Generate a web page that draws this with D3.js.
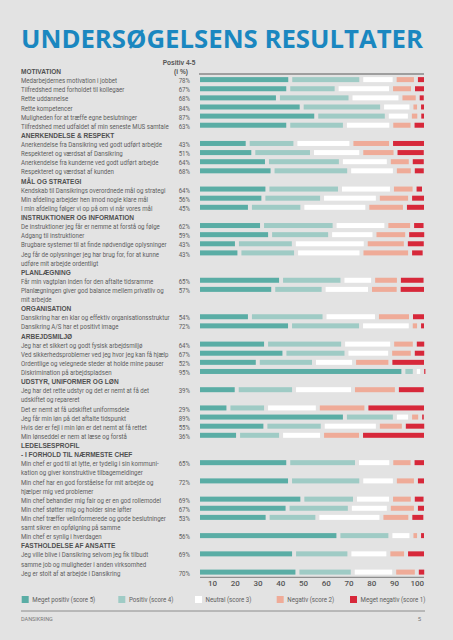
<!DOCTYPE html>
<html><head><meta charset="utf-8">
<script src="https://cdn.jsdelivr.net/npm/d3@7"></script>
<style>html,body{margin:0;padding:0;background:#e3e3e3;}svg{display:block}</style>
</head><body><svg id="c" width="453" height="640"></svg>
<script>
const title = "UNDERSØGELSENS RESULTATER";
const groups = ["MOTIVATION","ANERKENDELSE & RESPEKT","MÅL OG STRATEGI","INSTRUKTIONER OG INFORMATION","PLANLÆGNING","ORGANISATION","ARBEJDSMILJØ","UDSTYR, UNIFORMER OG LØN","LEDELSESPROFIL\n- I FORHOLD TIL NÆRMESTE CHEF","FASTHOLDELSE AF ANSATTE"];
const groupSizes = [6,4,3,4,2,2,4,5,6,2];
const categories = [
"Medarbejdernes motivation i jobbet",
"Tilfredshed med forholdet til kollegaer",
"Rette uddannelse",
"Rette kompetencer",
"Muligheden for at træffe egne beslutninger",
"Tilfredshed med udfaldet af min seneste MUS samtale",
"Anerkendelse fra Dansikring ved godt udført arbejde",
"Respekteret og værdsat af Dansikring",
"Anerkendelse fra kunderne ved godt udført arbejde",
"Respekteret og værdsat af kunden",
"Kendskab til Dansikrings overordnede mål og strategi",
"Min afdeling arbejder hen imod nogle klare mål",
"I min afdeling følger vi op på om vi når vores mål",
"De instruktioner jeg får er nemme at forstå og følge",
"Adgang til instruktioner",
"Brugbare systemer til at finde nødvendige oplysninger",
"Jeg får de oplysninger jeg har brug for, for at kunne\nudføre mit arbejde ordentligt",
"Får min vagtplan inden for den aftalte tidsramme",
"Planlægningen giver god balance mellem privatliv og\nmit arbejde",
"Dansikring har en klar og effektiv organisationsstruktur",
"Dansikring A/S har et positivt image",
"Jeg har et sikkert og godt fysisk arbejdsmiljø",
"Ved sikkerhedsproblemer ved jeg hvor jeg kan få hjælp",
"Ordentlige og velegnede steder at holde mine pauser",
"Diskrimination på arbejdspladsen",
"Jeg har det rette udstyr og det er nemt at få det\nudskiftet og repareret",
"Det er nemt at få udskiftet uniformsdele",
"Jeg får min løn på det aftalte tidspunkt",
"Hvis der er fejl i min løn er det nemt at få rettet",
"Min lønseddel er nem at læse og forstå",
"Min chef er god til at lytte, er tydelig i sin kommuni-\nkation og giver konstruktive tilbagemeldinger",
"Min chef har en god forståelse for mit arbejde og\nhjælper mig ved problemer",
"Min chef behandler mig fair og er en god rollemodel",
"Min chef støtter mig og holder sine løfter",
"Min chef træffer velinformerede og gode beslutninger\nsamt sikrer en opfølgning på samme",
"Min chef er synlig i hverdagen",
"Jeg ville blive i Dansikring selvom jeg fik tilbudt\nsamme job og muligheder i anden virksomhed",
"Jeg er stolt af at arbejde i Dansikring"];
const positiveShare = [78,67,68,84,87,63,43,51,64,68,64,56,45,62,59,43,43,65,57,54,72,64,67,52,95,39,29,89,55,36,65,72,69,67,53,56,69,70];
const veryPositive = [39.4,38.5,33.9,44.5,51.0,38.5,20.4,22.9,29.0,31.5,29.2,27.4,21.4,26.8,30.4,15.6,16.7,35.3,31.8,21.4,39.3,28.6,36.8,24.9,89.9,15.5,11.8,63.8,28.3,16.1,38.5,39.3,44.8,38.2,29.3,60.9,41.1,42.6];
const positive = [31.7,21.6,32.4,35.9,31.5,25.3,21.3,26.2,33.0,34.2,32.4,26.2,23.4,32.4,26.8,25.4,25.3,27.4,22.5,33.3,31.7,34.4,27.7,25.1,5.1,25.6,16.8,22.3,25.6,19.2,30.7,31.8,23.5,27.8,22.2,23.2,24.7,24.7];
const neutral = [14.9,24.3,22.3,13.1,10.3,20.7,25.0,22.0,21.4,20.4,23.2,24.9,29.0,23.1,19.8,32.1,29.2,13.7,20.7,23.4,22.2,21.9,19.5,17.9,3.3,26.3,23.1,6.8,24.6,18.3,15.3,15.0,16.1,17.4,28.6,9.4,17.4,18.5];
const negative = [9.5,9.8,7.7,3.4,4.2,9.5,17.7,15.3,9.8,8.0,10.1,14.4,16.8,11.5,14.6,17.9,21.7,11.5,12.8,15.2,3.7,10.1,10.1,16.2,0,19.6,21.7,4.5,11.6,17.4,9.5,9.4,9.7,12.1,12.9,3.4,7.9,10.1];
const veryNegative = [4.5,5.8,3.6,3.1,3.0,6.0,15.6,13.5,6.7,5.8,4.2,7.1,9.4,6.0,8.5,8.9,6.5,11.9,12.2,6.7,3.1,5.1,6.0,15.9,1.8,12.9,26.6,2.5,10.0,29.0,6.0,4.5,5.7,4.5,6.7,3.1,8.9,4.2];
const tickValues = [10,20,30,40,50,60,70,80,90,100];
const legendLabels = ["Meget positiv (score 5)","Positiv (score 4)","Neutral (score 3)","Negativ (score 2)","Meget negativ (score 1)"];
const colors = ["#5aada5","#9fcbc5","#ffffff","#efab98","#d7283a"];

const svg = d3.select("#c");
svg.append("rect").attr("width",453).attr("height",640).attr("fill","#e3e3e3");

const labelFont = "Roboto,'Liberation Sans',sans-serif";
const boldFont = "'Liberation Sans',Arial,sans-serif";

// horizontal fit factor so a sample string gets the width seen in the reference
function fit(sample, target, family, size, weight){
  const t = svg.append("text").text(sample).attr("font-family",family).attr("font-size",size).attr("font-weight",weight||400);
  const w = t.node().getComputedTextLength(); t.remove();
  return target / w;
}
const sxLabel = fit("Tilfredshed med udfaldet af min seneste MUS samtale",148,labelFont,7);
const sxHead = fit("INSTRUKTIONER OG INFORMATION",113.4,boldFont,6.8,700);
const sxLeg = fit("Meget positiv (score 5)",63,labelFont,6.7);

function addText(str, tx, ty, sx, opts){
  const t = svg.append("text").text(str).attr("transform",`translate(${tx},${ty}) scale(${sx},1)`)
    .attr("font-family",opts.family).attr("font-size",opts.size).attr("fill",opts.fill)
    .attr("font-weight",opts.weight||400);
  if(opts.anchor) t.attr("text-anchor",opts.anchor);
  return t;
}

// title
svg.append("text").text(title).attr("x",21).attr("y",48.3)
  .attr("font-family","'Open Sans',sans-serif").attr("font-weight",700).attr("font-size",25.5)
  .attr("fill","#1a87c0").attr("textLength",402).attr("lengthAdjust","spacingAndGlyphs");

// layout of text lines
let line = 1, idx = 0;
const rowLine = [], headerLine = [];
groups.forEach((g,gi)=>{
  headerLine.push(line); line += g.split("\n").length;
  for(let k=0;k<groupSizes[gi];k++){ rowLine.push(line); line += categories[idx].split("\n").length; idx++; }
});

const y = d3.scaleLinear().domain([1,56]).range([71.7,573.3]);
const x = d3.scaleLinear().domain([0,100]).range([200,424]);
const xt = d3.scaleLinear().domain([10,100]).range([212,416.8]);

const headOpts = {family:boldFont,size:6.8,weight:700,fill:"#505050"};
const labOpts = {family:labelFont,size:7,fill:"#5e5e5e"};

// column header
addText("Positiv 4-5",179,65.3,sxHead,Object.assign({},headOpts,{anchor:"middle",fill:"#555"}));
addText("(i %)",181,y(1)+2.5,sxHead,Object.assign({},headOpts,{anchor:"middle",fill:"#555"}));

// group headers
groups.forEach((g,gi)=>{
  g.split("\n").forEach((t,j)=>{ addText(t,21,y(headerLine[gi]+j)+2.5,sxHead,headOpts); });
});

// row labels + percentages
categories.forEach((c,i)=>{
  c.split("\n").forEach((t,j)=>{ addText(t,21,y(rowLine[i]+j)+2.4,sxLabel,labOpts); });
  addText(positiveShare[i]+"%",190,y(rowLine[i])+2.4,sxLabel,Object.assign({},labOpts,{anchor:"end"}));
});

// top rule
svg.append("line").attr("x1",199).attr("x2",424).attr("y1",74).attr("y2",74).attr("stroke","#5a5a5a").attr("stroke-width",1.2);

// stacked bars
const keys = ["vp","p","n","ng","vn"];
const table = categories.map((c,i)=>({vp:veryPositive[i],p:positive[i],n:neutral[i],ng:negative[i],vn:veryNegative[i],line:rowLine[i]}));
const stack = d3.stack().keys(keys)(table);
const gap = 4, barH = 5;
stack.forEach((s,si)=>{
  svg.append("g").attr("fill",colors[si]).selectAll("rect").data(s).join("rect")
    .attr("x",d=>x(d[0])+(si>0?gap:0))
    .attr("width",d=>{const w=x(d[1])-x(d[0])-(si>0?gap:0); return (d[1]-d[0])>0?Math.max(w,1.2):0;})
    .attr("y",d=>y(d.data.line)-3.7).attr("height",barH);
});

// bottom axis
svg.append("line").attr("x1",200).attr("x2",424).attr("y1",577.3).attr("y2",577.3).attr("stroke","#7a7a7a").attr("stroke-width",1);
const ax = svg.append("g").attr("transform","translate(0,577.3)")
  .call(d3.axisBottom(xt).tickValues(tickValues).tickSize(0).tickPadding(3));
ax.select(".domain").remove();
ax.selectAll("text").attr("font-family","Roboto,sans-serif").attr("font-weight",500).attr("font-size",8).attr("fill","#555");

// legend
const legX = [21.7,118.3,195,276.7,350];
legendLabels.forEach((l,i)=>{
  svg.append("rect").attr("x",legX[i]).attr("y",596).attr("width",7).attr("height",7).attr("fill",colors[i]);
  addText(l,legX[i]+10.6,602,sxLeg,{family:labelFont,size:6.7,fill:"#606060"});
});

// footer
svg.append("line").attr("x1",21).attr("x2",425).attr("y1",611).attr("y2",611).attr("stroke","#777").attr("stroke-width",0.8);
addText("DANSIKRING",21,621,sxLeg,{family:labelFont,size:6,fill:"#777"});
addText("5",421,621,1,{family:labelFont,size:6,fill:"#777",anchor:"end"});
</script></body></html>
